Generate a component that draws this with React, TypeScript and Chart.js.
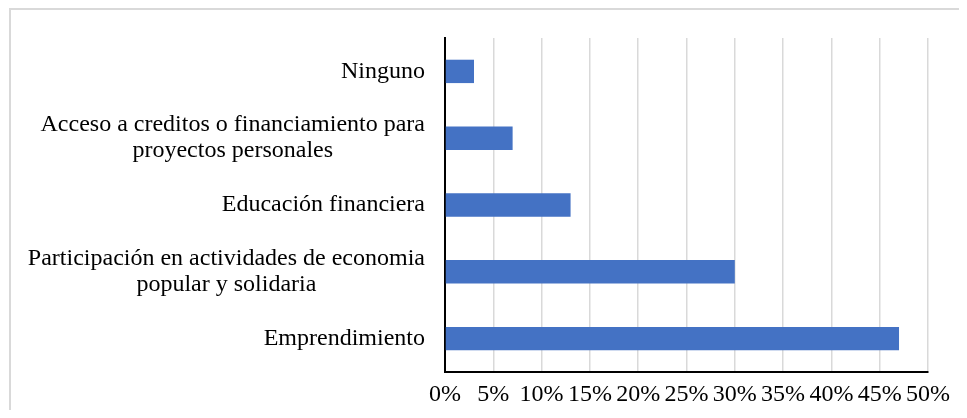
import React, { useEffect, useRef } from "react";
import { Chart, registerables } from "chart.js";

Chart.register(...registerables);

const categories: (string | string[])[] = [
  "Ninguno",
  ["Acceso a creditos o financiamiento para", "proyectos personales"],
  "Educación financiera",
  ["Participación en actividades de economia", "popular y solidaria"],
  "Emprendimiento",
];
const values = [3, 7, 13, 30, 47];
const xMin = 0;
const xMax = 50;
const xStep = 5;

const FONT_FAMILY = "'Liberation Serif', 'Times New Roman', serif";
const FONT_SIZE = 24;
const LINE_H = 26;
const LABEL_PAD = 20;

const yLabelPlugin = {
  id: "yLabels",
  afterDraw(chart: any) {
    const ctx = chart.ctx;
    const y = chart.scales.y;
    ctx.save();
    ctx.font = `${FONT_SIZE}px ${FONT_FAMILY}`;
    ctx.fillStyle = "#000";
    ctx.textBaseline = "middle";
    ctx.textAlign = "center";
    const right = y.right - LABEL_PAD;
    (chart.data.labels as (string | string[])[]).forEach((lab, i) => {
      const lines = Array.isArray(lab) ? lab : [lab];
      const widest = Math.max(...lines.map((l) => ctx.measureText(l).width));
      const cx = right - widest / 2;
      const cy = y.getPixelForValue(i);
      const top = cy - ((lines.length - 1) * LINE_H) / 2;
      lines.forEach((l, j) => ctx.fillText(l, cx, top + j * LINE_H));
    });
    ctx.restore();
  },
};

export default function App() {
  const ref = useRef<HTMLCanvasElement>(null);
  useEffect(() => {
    if (!ref.current) return;
    const font = { family: FONT_FAMILY, size: FONT_SIZE, lineHeight: 1.15 };
    const chart = new Chart(ref.current, {
      type: "bar",
      data: {
        labels: categories,
        datasets: [
          {
            data: values,
            backgroundColor: "#4472C4",
            borderWidth: 0,
            categoryPercentage: 1,
            barPercentage: 0.35,
          },
        ],
      },
      plugins: [yLabelPlugin],
      options: {
        indexAxis: "y",
        animation: false,
        responsive: false,
        maintainAspectRatio: false,
        layout: { padding: { top: 28, right: 30, bottom: 0, left: 0 } },
        plugins: { legend: { display: false }, tooltip: { enabled: false } },
        scales: {
          x: {
            min: xMin,
            max: xMax,
            ticks: {
              stepSize: xStep,
              color: "#000",
              font,
              padding: 9,
              maxRotation: 0,
              autoSkip: false,
              callback: (v: any) => v + "%",
            },
            grid: { color: "#d9d9d9", lineWidth: 1.5, drawTicks: false },
            border: { color: "#000", width: 2 },
            afterFit: (s: any) => {
              s.height = 38;
            },
          },
          y: {
            ticks: { display: false },
            grid: { display: false, drawTicks: false },
            border: { color: "#000", width: 2 },
            afterFit: (s: any) => {
              s.width = 434;
            },
          },
        },
      },
    });
    return () => chart.destroy();
  }, []);
  return (
    <div
      style={{
        marginLeft: 1,
        width: 950,
        height: 402,
        borderTop: "2px solid #d9d9d9",
        borderLeft: "2px solid #d9d9d9",
        boxSizing: "border-box",
        background: "#fff",
      }}
    >
      <canvas ref={ref} width={948} height={400} style={{ display: "block" }} />
    </div>
  );
}
